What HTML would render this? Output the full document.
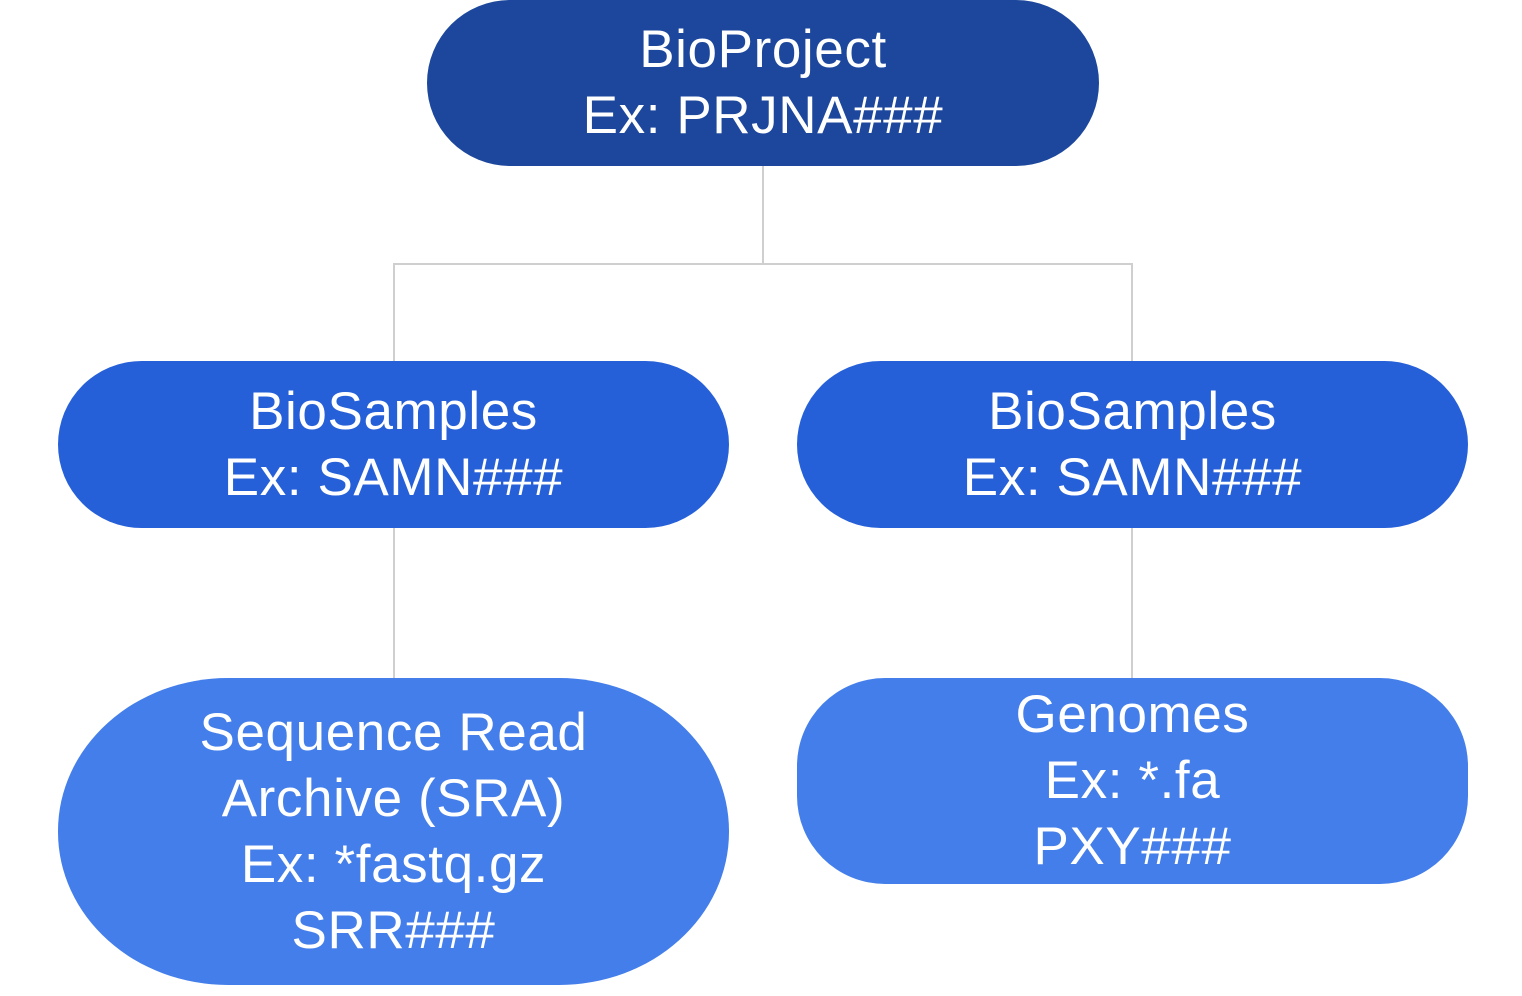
<!DOCTYPE html>
<html><head><style>
body{margin:0;width:1522px;height:996px;background:#fff;position:relative;overflow:hidden;font-family:"Liberation Sans",sans-serif}
.n{position:absolute;color:#fff;display:flex;flex-direction:column;justify-content:center;align-items:center;text-align:center;font-size:53px;line-height:66px;letter-spacing:0.6px}
.l{position:absolute;background:#cfcfcf}
</style></head><body>
<div class="l" style="left:762px;top:166px;width:2px;height:99px"></div>
<div class="l" style="left:394px;top:263px;width:739px;height:2px"></div>
<div class="l" style="left:393px;top:263px;width:2px;height:100px"></div>
<div class="l" style="left:1131px;top:263px;width:2px;height:100px"></div>
<div class="l" style="left:393px;top:526px;width:2px;height:154px"></div>
<div class="l" style="left:1131px;top:526px;width:2px;height:154px"></div>
<div class="n" style="left:427px;top:0;width:672px;height:166px;border-radius:83px;background:#1c479c"><div>BioProject</div><div>Ex: PRJNA###</div></div>
<div class="n" style="left:58px;top:361px;width:671px;height:167px;border-radius:84px;background:#2660d8"><div>BioSamples</div><div>Ex: SAMN###</div></div>
<div class="n" style="left:797px;top:361px;width:671px;height:167px;border-radius:84px;background:#2660d8"><div>BioSamples</div><div>Ex: SAMN###</div></div>
<div class="n" style="left:58px;top:678px;width:671px;height:307px;border-radius:170px/153px;background:#437eea"><div>Sequence Read</div><div>Archive (SRA)</div><div>Ex: *fastq.gz</div><div>SRR###</div></div>
<div class="n" style="left:797px;top:678px;width:671px;height:206px;border-radius:88px;background:#437eea"><div>Genomes</div><div>Ex: *.fa</div><div>PXY###</div></div>
</body></html>
